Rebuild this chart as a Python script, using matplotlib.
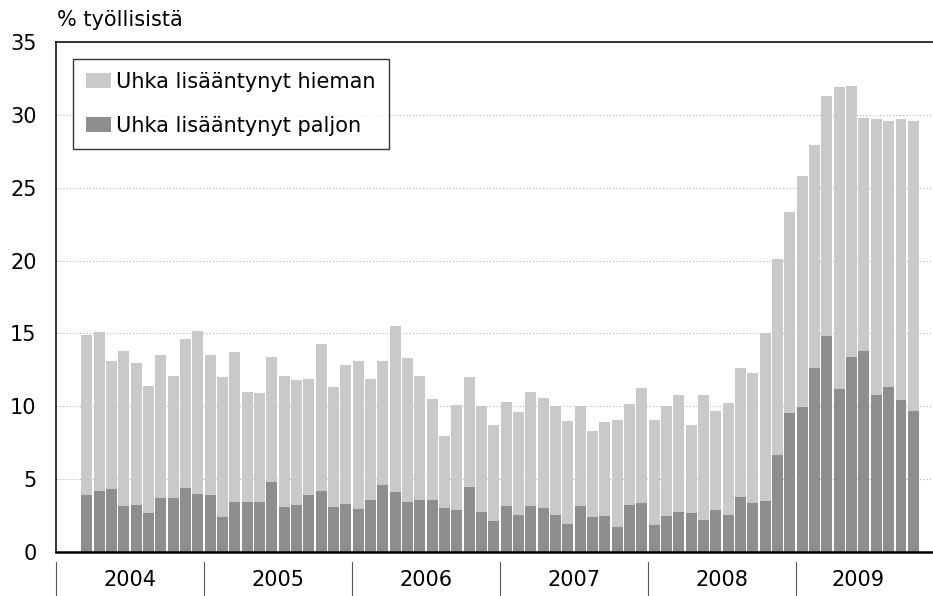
import matplotlib
matplotlib.use("Agg")
import matplotlib.pyplot as plt
from matplotlib.patches import Patch

plt.rcParams["font.family"] = ["DejaVu Sans"]

# Kuukausittaiset luvut, maaliskuu 2004 - lokakuu 2009
years = ["2004", "2005", "2006", "2007", "2008", "2009"]
months_per_year = [10, 12, 12, 12, 12, 10]

paljon = [
    3.9, 4.2, 4.3, 3.15, 3.2, 2.7, 3.7, 3.7, 4.4, 4.0,
    3.9, 2.4, 3.4, 3.4, 3.4, 4.8, 3.1, 3.2, 3.9, 4.2, 3.1, 3.3,
    2.95, 3.6, 4.6, 4.1, 3.4, 3.6, 3.55, 3.05, 2.85, 4.45, 2.75, 2.1,
    3.15, 2.55, 3.15, 3.05, 2.55, 1.9, 3.15, 2.4, 2.5, 1.75, 3.25, 3.35,
    1.85, 2.45, 2.75, 2.65, 2.2, 2.9, 2.55, 3.8, 3.35, 3.5, 6.65, 9.55,
    9.95, 12.6, 14.8, 11.2, 13.4, 13.8, 10.8, 11.3, 10.4, 9.7,
]
hieman = [
    11.0, 10.9, 8.8, 10.65, 9.75, 8.7, 9.8, 8.4, 10.2, 11.2,
    9.6, 9.6, 10.3, 7.6, 7.5, 8.6, 9.0, 8.6, 8.0, 10.1, 8.2, 9.55,
    10.15, 8.3, 8.5, 11.4, 9.9, 8.5, 6.95, 4.9, 7.25, 7.55, 7.25, 6.6,
    7.15, 7.05, 7.8, 7.5, 7.45, 7.1, 6.85, 5.9, 6.45, 7.3, 6.9, 7.9,
    7.2, 7.55, 8.0, 6.05, 8.55, 6.75, 7.65, 8.8, 8.95, 11.5, 13.45, 13.75,
    15.85, 15.3, 16.5, 20.7, 18.6, 16.0, 18.9, 18.3, 19.3, 19.9,
]

light = "#c9c9c9"
dark = "#8e8e8e"

fig = plt.figure(figsize=(9.33, 5.96), dpi=100)
ax = fig.add_axes([56 / 933, 44 / 596, 1 - 56 / 933, 510 / 596])

x = list(range(len(paljon)))
ax.bar(x, paljon, width=0.88, color=dark, linewidth=0, zorder=2)
ax.bar(x, hieman, bottom=paljon, width=0.88, color=light, linewidth=0, zorder=2)

ax.set_xlim(-2.5, 68.6)
ax.set_ylim(0, 35)
ax.set_yticks(range(0, 36, 5))
ax.tick_params(axis="y", length=0, pad=14, labelsize=15)
ax.set_xticks([])
ax.grid(axis="y", linestyle=(0, (1, 2)), color="#b0b0b0", linewidth=0.8, zorder=0)

for s in ["left", "top", "bottom"]:
    ax.spines[s].set_linewidth(1.1)
ax.spines["bottom"].set_linewidth(1.8)
ax.spines["right"].set_visible(False)

# vuosijaot ja vuosien nimet akselin alla
trans = ax.get_xaxis_transform()
start = -2.5
for year, n in zip(years, months_per_year):
    if year == "2004":
        n = n + 2
    ax.plot([start, start], [-0.02, -0.09], color="#555555", linewidth=0.8,
            transform=trans, clip_on=False)
    ax.text(start + n / 2, -0.055, year, transform=trans, ha="center",
            va="center", fontsize=15)
    start += n

fig.text(57 / 933, 1 - 20 / 596, "% työllisistä", fontsize=15, va="center")

handles = [Patch(facecolor=light, edgecolor="none"),
           Patch(facecolor=dark, edgecolor="none")]
leg = ax.legend(handles, ["Uhka lisääntynyt hieman", "Uhka lisääntynyt paljon"],
                loc="upper left", fontsize=15, frameon=True, fancybox=False,
                edgecolor="black", borderaxespad=0.82, borderpad=0.62,
                handlelength=1.2, handleheight=0.7, handletextpad=0.25,
                labelspacing=1.15)
leg.get_frame().set_linewidth(1.0)
leg.set_zorder(5)

fig.savefig("out.png", dpi=100)
